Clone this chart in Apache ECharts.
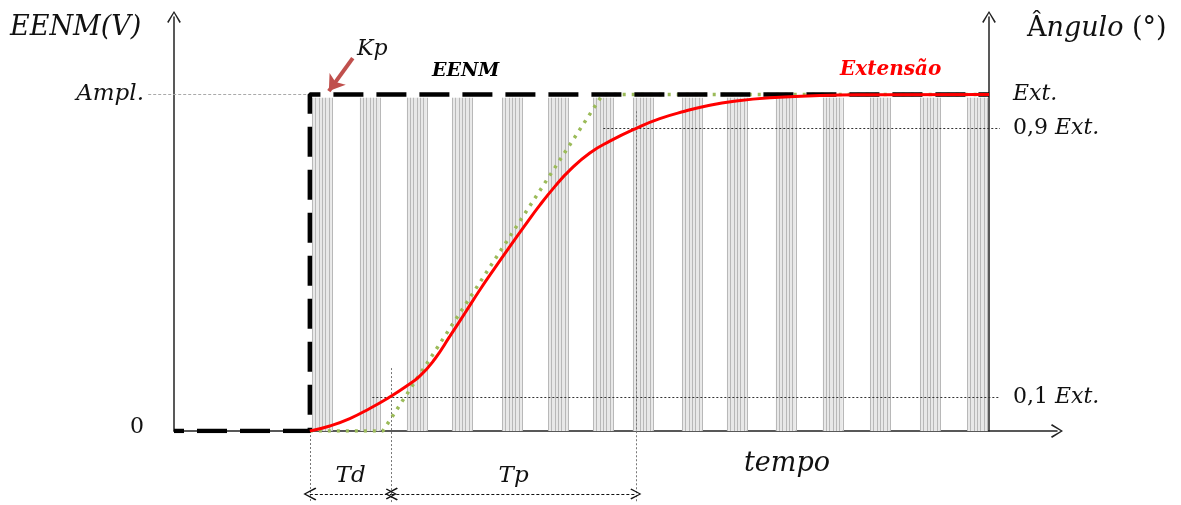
<!DOCTYPE html>
<html>
<head>
<meta charset="utf-8">
<script src="https://cdn.jsdelivr.net/npm/echarts@6/dist/echarts.min.js"></script>
<style>
  html, body { margin: 0; background: #fff; }
  #chart { width: 1181px; height: 505px; }
</style>
</head>
<body>
<div id="chart"></div>
<script>
// ============================================================
// EENM (degrau) x resposta do ângulo (extensão) - Td / Tp
// ============================================================

// ── dados ────────────────────────────────────────────────
const stepT = [0, 10, 10, 60];
const stepV = [0, 0, 1, 1];

const extT = [10, 11.47, 12.94, 14.41, 15.88, 16.99, 18.09, 19.2, 20.3, 21.41, 22.51, 23.61, 24.72, 25.82,
  26.93, 28.03, 29.14, 30.61, 32.08, 34.07, 35.76, 37.6, 39.44, 41.28, 43.86, 47.54, 51.22, 60];
const extV = [0, 0.015, 0.037, 0.067, 0.101, 0.13, 0.163, 0.214, 0.281, 0.35, 0.419, 0.484, 0.548, 0.61,
  0.671, 0.726, 0.775, 0.826, 0.861, 0.9, 0.928, 0.95, 0.968, 0.98, 0.99, 0.997, 0.999, 1];

const tangT = [10, 15.37, 31.56, 60];
const tangV = [0, 0, 1, 1];

// início de cada trem de pulsos
const pulseT = [10.15, 13.68, 17.14, 20.46, 24.14, 27.53, 30.84, 33.78, 37.39, 40.7, 44.3, 47.76, 51.23, 54.91, 58.38];
const pulseLen = 1.47;
const pulseTop = 0.99;

const leftTicks = [0, 1];
const leftLabels = ['{n|0}', '{i|Ampl.}'];
const rightTicks = [0.1, 0.9, 1];
const rightLabels = ['{n|0,1 }{i|Ext.}', '{n|0,9 }{i|Ext.}', '{i|Ext.}'];

// linhas de referência [t1, v1, t2, v2]
const amplGuide = [-1.9, 1, 10, 1];
const levelGuides = [[14.6, 0.1, 60.8, 0.1], [31.6, 0.9, 60.8, 0.9]];
const timeGuides = [[10, 0, 10, -0.214], [16, 0.187, 16, -0.214], [34, 0.95, 34, -0.214]];

// cotas Td / Tp
const spanNames = ['Td', 'Tp'];
const spanT = [[10, 16], [16, 34]];
const spanLevel = -0.187;

// seta Kp
const kpArrow = [13.16, 1.108, 11.4, 1.01];

const tMax = 65;
const vMax = 1.23;

// ── estilos ─────────────────────────────────────────────
const SERIF = 'DejaVu Serif';
const AXIS_COLOR = '#222';
const chevron = 'path://M5,0 L10,8 L9,8.7 L5,1.7 L1,8.7 L0,8 Z';

const zip = (a, b) => a.map((v, i) => [v, b[i]]);
const seg = s => ({ coords: [[s[0], s[1]], [s[2], s[3]]] });

const chart = echarts.init(document.getElementById('chart'), null, { renderer: 'canvas' });

const option = {
  backgroundColor: '#fff',
  animation: false,
  grid: { left: 174, right: 124, top: 17, bottom: 74, containLabel: false },

  xAxis: {
    type: 'value', min: 0, max: tMax,
    axisLine: {
      onZero: false,
      lineStyle: { color: AXIS_COLOR, width: 1.5 },
      symbol: ['none', chevron], symbolSize: [15, 12],
    },
    axisTick: { show: false },
    axisLabel: { show: false },
    splitLine: { show: false },
  },

  yAxis: [
    {
      type: 'value', min: 0, max: vMax, position: 'left',
      axisLine: {
        show: true, onZero: false,
        lineStyle: { color: AXIS_COLOR, width: 1.5 },
        symbol: ['none', chevron], symbolSize: [15, 12],
      },
      axisTick: { show: false },
      splitLine: { show: false },
      axisLabel: {
        customValues: leftTicks,
        margin: 30,
        formatter: v => leftLabels[leftTicks.indexOf(v)] || '',
        rich: {
          n: { fontFamily: SERIF, fontSize: 22, color: '#111', padding: [0, 0, 8, 0] },
          i: { fontFamily: SERIF, fontSize: 23, fontStyle: 'italic', color: '#111' },
        },
      },
    },
    {
      type: 'value', min: 0, max: vMax, position: 'right', offset: -68,
      axisLine: {
        show: true, onZero: false,
        lineStyle: { color: AXIS_COLOR, width: 1.5 },
        symbol: ['none', chevron], symbolSize: [15, 12],
      },
      axisTick: { show: false },
      splitLine: { show: false },
      axisLabel: {
        customValues: rightTicks,
        margin: 24,
        formatter: v => rightLabels[rightTicks.indexOf(v)] || '',
        rich: {
          n: { fontFamily: SERIF, fontSize: 22, color: '#111' },
          i: { fontFamily: SERIF, fontSize: 22, fontStyle: 'italic', color: '#111' },
        },
      },
    },
  ],

  series: [
    // trens de pulsos (fundo)
    {
      type: 'custom',
      data: pulseT.map(t => [t, pulseTop]),
      encode: { x: 0, y: 1 },
      z: 1,
      renderItem: (params, api) => {
        const t = api.value(0);
        const p0 = api.coord([t, 0]);
        const p1 = api.coord([t + pulseLen, api.value(1)]);
        const w = p1[0] - p0[0];
        const children = [{
          type: 'rect',
          shape: { x: p0[0], y: p1[1], width: w, height: p0[1] - p1[1] },
          style: { fill: '#e8e8e8' },
        }];
        for (let k = 0; k < 7; k++) {
          const x = Math.round(p0[0] + k * w / 6) + 0.5;
          children.push({
            type: 'line',
            shape: { x1: x, y1: p1[1], x2: x, y2: p0[1] },
            style: { stroke: '#b8b8b8', lineWidth: 1 },
          });
        }
        return { type: 'group', children };
      },
    },
    // linha Ampl.
    {
      type: 'lines', coordinateSystem: 'cartesian2d', clip: false, z: 2, silent: true,
      lineStyle: { color: '#aaa', width: 1, type: [3, 2], opacity: 1 },
      data: [seg(amplGuide)],
    },
    // 0,1 / 0,9 Ext.
    {
      type: 'lines', coordinateSystem: 'cartesian2d', clip: false, z: 2, silent: true,
      lineStyle: { color: '#333', width: 1, type: [2, 2], opacity: 1 },
      data: levelGuides.map(seg),
    },
    // verticais Td / Tp
    {
      type: 'lines', coordinateSystem: 'cartesian2d', clip: false, z: 2, silent: true,
      lineStyle: { color: '#777', width: 1, type: [2, 2], opacity: 1 },
      data: timeGuides.map(seg),
    },
    // tangente (verde)
    {
      name: 'tangente', type: 'line', data: zip(tangT, tangV), z: 3,
      showSymbol: false, silent: true,
      lineStyle: { color: '#9BBB59', width: 3.5, type: [3, 6] },
    },
    // EENM (degrau)
    {
      name: 'EENM', type: 'line', data: zip(stepT, stepV), z: 4,
      showSymbol: false, silent: true,
      lineStyle: { color: '#000', width: 4.5, type: [30, 13], dashOffset: 20 },
    },
    // Extensão
    {
      name: 'Extensão', type: 'line', data: zip(extT, extV), z: 5,
      showSymbol: false, silent: true, smooth: 0.5,
      lineStyle: { color: '#ff0000', width: 3 },
    },
    // cotas Td / Tp
    {
      type: 'lines', coordinateSystem: 'cartesian2d', clip: false, z: 6, silent: true,
      symbol: [chevron, chevron], symbolSize: [13, 11],
      lineStyle: { color: '#111', width: 1, type: [3, 2], opacity: 1 },
      label: {
        show: true, position: 'middle', distance: 6,
        formatter: '{b}',
        fontFamily: SERIF, fontSize: 23, fontStyle: 'italic', color: '#111',
      },
      data: spanT.map((s, i) => ({ name: spanNames[i], coords: [[s[0], spanLevel], [s[1], spanLevel]] })),
    },
    // seta Kp
    {
      type: 'lines', coordinateSystem: 'cartesian2d', clip: false, z: 7, silent: true,
      symbol: ['none', 'arrow'], symbolSize: 15,
      lineStyle: { color: '#C0504D', width: 4, opacity: 1 },
      data: [seg(kpArrow)],
    },
  ],

  graphic: [
    { type: 'text', left: 10, top: 14, style: { text: 'EENM(V)', font: 'italic 27px "DejaVu Serif"', fill: '#111' } },
    {
      type: 'text', left: 1027, top: 15,
      style: {
        text: '{n|Â}{i|ngulo}{n| (°)}',
        rich: {
          n: { fontFamily: SERIF, fontSize: 27, fill: '#111' },
          i: { fontFamily: SERIF, fontSize: 27, fontStyle: 'italic', fill: '#111' },
        },
      },
    },
    { type: 'text', left: 357, top: 38, style: { text: 'Kp', font: 'italic 22px "DejaVu Serif"', fill: '#111' } },
    { type: 'text', left: 432, top: 62, style: { text: 'EENM', font: 'italic bold 19px "DejaVu Serif"', fill: '#000' } },
    { type: 'text', left: 840, top: 60, style: { text: 'Extensão', font: 'italic bold 20px "DejaVu Serif"', fill: '#ff0000' } },
    { type: 'text', left: 744, top: 450, style: { text: 'tempo', font: 'italic 27px "DejaVu Serif"', fill: '#111' } },
  ],
};

chart.setOption(option);
window.addEventListener('resize', () => chart.resize());
</script>
</body>
</html>
